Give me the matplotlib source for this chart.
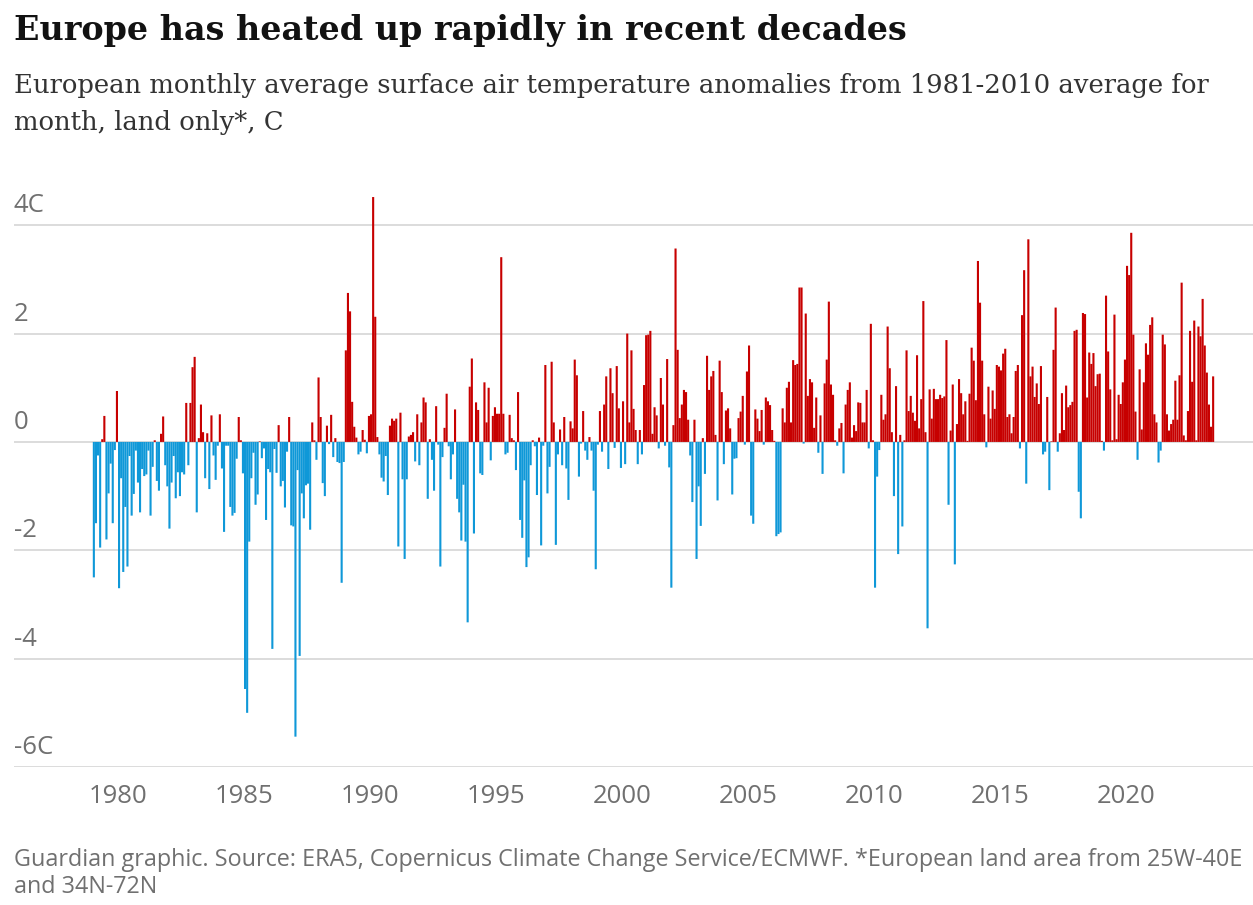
import numpy as np
import matplotlib.pyplot as plt
from matplotlib.transforms import offset_copy

# Monthly anomalies (C) vs 1981-2010, starting Jan 1979
start_year = 1979
t_1979_1982 = [-2.5, -1.5, -0.25, -1.95, 0.05, 0.48, -1.8, -0.95, -0.4, -1.5,
               -0.15, 0.94, -2.7, -0.67, -2.4, -1.2, -2.3, -0.26, -1.36, -0.96,
               -0.16, -0.75, -1.3, -0.5, -0.63, -0.6, -0.16, -1.36, -0.46, 0.03,
               -0.72, -0.9, 0.15, 0.47, -0.43, -0.82, -1.6, -0.75, -0.26, -1.04,
               -0.56, -1.0, -0.56]
t_1982_1986 = [-0.6, 0.72, -0.43, 0.72, 1.38, 1.57, -1.3, 0.07, 0.69, 0.18,
               -0.67, 0.16, -0.87, 0.49, -0.25, -0.7, -0.07, 0.51, -0.49, -1.66,
               -0.07, -0.07, -1.2, -1.36, -1.31, -0.31, 0.46, 0.03, -0.58, -4.56,
               -5.0, -1.84, -0.67, -0.2, -1.16, -0.97, 0.01, -0.3, -0.12, -1.44,
               -0.5, -0.56, -3.82, -0.13, -0.57]
t_1986_1990 = [0.31, -0.82, -0.72, -1.21, -0.18, 0.46, -1.54, -1.56, -5.44, -0.52,
               -3.95, -0.95, -1.41, -0.8, -0.77, -1.62, 0.36, 0.03, -0.33, 1.19,
               0.46, -0.76, -1.0, 0.3, -0.04, 0.5, -0.28, 0.07, -0.37, -0.39,
               -2.6, -0.37, 1.69, 2.75, 2.41, 0.74, 0.28, 0.08, -0.23, -0.18,
               0.22, 0.04, -0.21, 0.48, 0.51]
t_1990_1993 = [4.52, 2.31, 0.09, -0.23, -0.66, -0.73, -0.26, -0.98, 0.3, 0.43,
               0.39, 0.43, -1.93, 0.54, -0.69, -2.16, -0.69, 0.1, 0.13, 0.18,
               -0.36, 0.51, -0.43, 0.36, 0.82, 0.73, -1.05, 0.05, -0.33, -0.9,
               0.66, -0.05, -2.3, -0.28, 0.26, 0.89, -0.08, -0.69, -0.23, 0.6,
               -1.05, -1.3, -1.82, -0.79]
t_1993_1997 = [-1.84, -3.33, 1.02, 1.54, -1.69, 0.73, 0.59, -0.58, -0.61, 1.1,
               0.36, 1.0, -0.34, 0.48, 0.64, 0.52, 0.52, 3.41, 0.52, -0.23,
               -0.2, 0.5, 0.07, 0.03, -0.52, 0.92, -1.44, -1.77, -0.71, -2.31,
               -2.13, -0.43, 0.03, -0.08, -0.98, 0.08, -1.91, -0.07, 1.42, -0.95,
               -0.46, 1.48, 0.36, -1.9, -0.23, 0.23]
t_1997_2001 = [-0.43, 0.46, -0.49, -1.07, 0.38, 0.25, 1.52, 1.23, -0.64, -0.03,
               0.57, -0.16, -0.33, 0.09, -0.16, -0.9, -2.35, -0.05, 0.57, -0.18,
               0.69, 1.21, -0.5, 1.36, 0.9, -0.11, 1.4, 0.62, -0.48, 0.75,
               -0.41, 2.0, 0.36, 1.69, 0.61, 0.22, -0.41, 0.22, -0.23, 1.05,
               1.97, 1.98, 2.05, 0.15, 0.64]
t_2001_2004 = [0.49, -0.12, 1.18, 0.69, -0.07, 1.53, -0.47, -2.69, 0.31, 3.57,
               1.7, 0.44, 0.69, 0.96, 0.92, 0.41, -0.25, -1.11, 0.41, -2.16,
               -0.82, -1.55, 0.07, -0.59, 1.59, 0.96, 1.21, 1.31, 0.13, -1.08,
               1.5, 0.92, -0.41, 0.58, 0.62, 0.25, -0.97, -0.31, -0.3, 0.44,
               0.56, 0.85, -0.05, 1.3]
t_2005_2008 = [1.78, -1.36, -1.51, 0.6, 0.43, 0.2, 0.59, -0.05, 0.82, 0.75,
               0.68, 0.22, 0.02, -1.74, -1.7, -1.67, 0.62, 0.36, 1.0, 1.11,
               0.36, 1.51, 1.42, 1.44, 2.85, 2.85, -0.03, 2.37, 0.85, 1.16,
               1.1, 0.26, 0.82, -0.2, 0.49, -0.59, 1.08, 1.52, 2.59, 1.06,
               0.87, 0.03, -0.07, 0.25, 0.35]
t_2008_2012 = [-0.58, 0.69, 0.96, 1.1, 0.08, 0.31, 0.2, 0.73, 0.72, 0.36,
               0.36, 0.96, -0.12, 2.18, 0.03, -2.69, -0.64, -0.15, 0.87, 0.41,
               0.51, 2.13, 1.36, 0.18, -1.0, 1.03, -2.07, 0.13, -1.56, 0.03,
               1.69, 0.57, 0.85, 0.54, 0.39, 1.6, 0.25, 0.79, 2.6, 0.18,
               -3.44, 0.97, 0.43, 0.98, 0.79]
t_2012_2016 = [0.79, 0.87, 0.81, 0.84, 1.88, -1.16, 0.21, 1.06, -2.26, 0.33,
               1.16, 0.9, 0.51, 0.75, 0.02, 0.89, 1.74, 1.5, 0.77, 3.34,
               2.57, 1.5, 0.51, -0.1, 1.02, 0.43, 0.95, 0.61, 1.42, 1.39,
               1.32, 1.63, 1.72, 0.46, 0.51, 0.16, 0.46, 1.31, 1.42, -0.12,
               2.34, 3.17, -0.77, 3.74, 1.21]
t_2016_2019 = [1.39, 0.83, 1.08, 0.7, 1.4, -0.23, -0.18, 0.83, -0.89, 0.01,
               1.7, 2.48, -0.18, 0.16, 0.9, 0.22, 1.04, 0.64, 0.68, 0.74,
               2.05, 2.07, -0.92, -1.41, 2.38, 2.36, 0.82, 1.65, 1.44, 1.64,
               1.03, 1.25, 1.26, 0.02, -0.16, 2.7, 1.67, 0.97, 0.03, 2.35,
               0.05, 0.87, 0.7, 1.1]
t_2019_2023 = [1.52, 3.25, 3.08, 3.86, 1.98, 0.56, -0.33, 1.34, 0.23, 1.1,
               1.82, 1.61, 2.16, 2.3, 0.51, 0.36, -0.38, -0.16, 1.98, 1.8,
               0.51, 0.21, 0.33, 0.41, 1.13, 0.41, 1.23, 2.94, 0.12, 0.03,
               0.57, 2.05, 1.11, 2.24, 0.03, 2.13, 1.95, 2.64, 1.78, 1.28,
               0.69, 0.28, 1.21]

y_ticks = [4, 2, 0, -2, -4, -6]
y_labels = ['4C', '2', '0', '-2', '-4', '-6C']
x_ticks = [1980, 1985, 1990, 1995, 2000, 2005, 2010, 2015, 2020]

anomaly = np.array(t_1979_1982 + t_1982_1986 + t_1986_1990 + t_1990_1993 +
                   t_1993_1997 + t_1997_2001 + t_2001_2004 + t_2005_2008 +
                   t_2008_2012 + t_2012_2016 + t_2016_2019 + t_2019_2023)
when = start_year + np.arange(len(anomaly)) / 12

RED = '#c70000'
BLUE = '#0f98d8'
GREY = '#707070'

W, H = 1253, 905
fig = plt.figure(figsize=(W / 100, H / 100), dpi=100)


def fx(px):
    return px / W


def fy(px):
    return 1 - px / H


ax = fig.add_axes([fx(14), fy(767), fx(1253 - 14), fy(190) - fy(767)])
colors = np.where(anomaly >= 0, RED, BLUE)
ax.bar(when, anomaly, width=1 / 12, align='edge', color=colors,
       linewidth=0, snap=False, zorder=3)

ax.set_xlim(1975.873, 2025.04)
ax.set_ylim(-6, 4.65)
ax.set_yticks(y_ticks)
ax.grid(axis='y', color='#d6d6d6', linewidth=1.2, zorder=0)
ax.tick_params(axis='y', length=0, labelleft=False)
for side in ['top', 'right', 'left', 'bottom']:
    ax.spines[side].set_visible(False)

# y labels sit above their gridline at the left edge
trans = offset_copy(ax.get_yaxis_transform(), fig=fig, x=0, y=5, units='points')
for v, lab in zip(y_ticks, y_labels):
    ax.text(0, v, lab, transform=trans, ha='left', va='bottom',
            fontsize=18.5, color=GREY, family='Open Sans')

ax.set_xticks(x_ticks)
ax.set_xticklabels([str(x) for x in x_ticks], fontsize=18.5, color=GREY,
                   family='Open Sans')
ax.tick_params(axis='x', length=0, pad=12)

fig.text(fx(14), fy(40), 'Europe has heated up rapidly in recent decades',
         fontsize=24, fontweight='bold', family='DejaVu Serif',
         color='#121212', va='baseline')
fig.text(fx(14), fy(93), 'European monthly average surface air temperature '
         'anomalies from 1981-2010 average for',
         fontsize=18.6, family='DejaVu Serif', color='#333333', va='baseline')
fig.text(fx(14), fy(130), 'month, land only*, C',
         fontsize=18.6, family='DejaVu Serif', color='#333333', va='baseline')

fig.text(fx(14), fy(866), 'Guardian graphic. Source: ERA5, Copernicus Climate '
         'Change Service/ECMWF. *European land area from 25W-40E',
         fontsize=16.8, family='Open Sans', color=GREY, va='baseline')
fig.text(fx(14), fy(893), 'and 34N-72N',
         fontsize=16.8, family='Open Sans', color=GREY, va='baseline')

fig.savefig('out.png', dpi=100, facecolor='white')
